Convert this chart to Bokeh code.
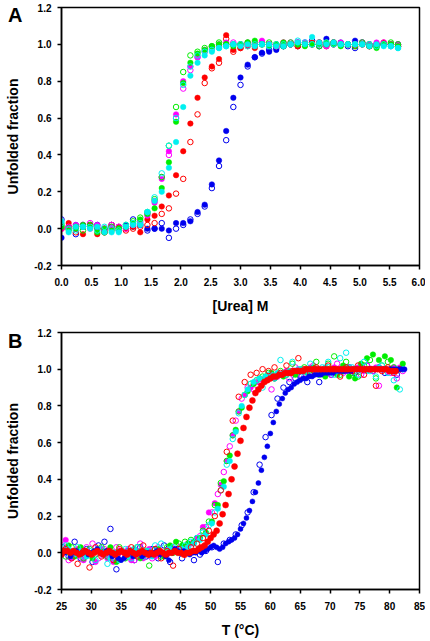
from bokeh.plotting import figure
from bokeh.layouts import column
from bokeh.models import Range1d, FixedTicker, PrintfTickFormatter, Div
from bokeh.embed import file_html
from bokeh.resources import INLINE

# ---------------- Panel A : urea denaturation ----------------
urea = [0.00, 0.12, 0.24, 0.36, 0.48, 0.60, 0.72, 0.84, 0.96, 1.08,
        1.20, 1.32, 1.44, 1.56, 1.68, 1.80, 1.92, 2.04, 2.16, 2.28,
        2.40, 2.52, 2.64, 2.76, 2.88, 3.00, 3.12, 3.24, 3.36, 3.48,
        3.60, 3.72, 3.84, 3.96, 4.08, 4.20, 4.32, 4.44, 4.56, 4.68,
        4.80, 4.92, 5.04, 5.16, 5.28, 5.40, 5.52, 5.64]

a_blue_filled = [-0.05, 0.01, 0.02, 0.01, 0.02, 0.00, -0.01, 0.00, 0.01, 0.02,
                 0.01, 0.02, 0.00, 0.00, 0.00, -0.01, 0.03, 0.03, 0.04, 0.09,
                 0.13, 0.24, 0.37, 0.53, 0.71, 0.82, 0.89, 0.93, 0.955, 0.96,
                 0.97, 0.99, 1.00, 0.99, 1.01, 1.00, 1.01, 1.03, 1.00, 1.01,
                 1.00, 1.02, 1.00, 0.99, 1.00, 1.00, 0.99, 1.00]
a_blue_open = [0.05, 0.00, -0.03, 0.02, 0.01, 0.02, 0.00, 0.02, -0.01, 0.01,
               0.05, 0.02, -0.01, 0.00, 0.03, -0.05, 0.00, 0.02, 0.05, 0.08,
               0.12, 0.22, 0.34, 0.48, 0.66, 0.78, 0.88, 0.93, 0.95, 0.97,
               0.98, 0.99, 1.00, 1.01, 1.00, 1.02, 0.99, 1.00, 1.01, 1.00,
               0.99, 0.98, 1.01, 1.00, 0.99, 1.00, 1.00, 0.99]
a_red_filled = [0.00, 0.03, 0.01, -0.03, 0.02, -0.03, -0.02, 0.01, 0.01, 0.00,
                0.01, -0.02, 0.05, 0.07, 0.12, 0.18, 0.29, 0.42, 0.57, 0.71,
                0.82, 0.88, 0.92, 1.05, 0.97, 0.98, 0.99, 0.98, 1.00, 1.00,
                0.99, 1.01, 1.00, 0.99, 1.00, 1.01, 1.00, 1.00, 1.01, 1.00,
                1.00, 0.99, 1.00, 0.99, 1.00, 1.01, 1.00, 0.99]
a_red_open = [0.00, 0.01, -0.02, 0.01, 0.02, 0.00, -0.02, 0.02, 0.00, -0.01,
              0.00, 0.01, 0.02, 0.03, 0.08, 0.11, 0.19, 0.27, 0.47, 0.62,
              0.79, 0.87, 0.90, 1.03, 0.96, 0.98, 1.00, 0.99, 1.01, 1.00,
              0.99, 1.00, 1.00, 0.99, 1.00, 1.00, 1.01, 0.99, 1.00, 1.00,
              1.00, 1.00, 1.00, 0.99, 1.00, 1.00, 1.00, 0.99]
a_green_filled = [0.01, -0.01, 0.00, 0.02, 0.01, -0.02, 0.00, -0.01, 0.00, 0.01,
                  0.03, 0.05, 0.08, 0.11, 0.22, 0.36, 0.58, 0.79, 0.90, 0.95,
                  0.97, 0.99, 1.00, 1.00, 0.99, 1.00, 1.01, 1.02, 1.00, 0.99,
                  1.00, 1.01, 1.00, 1.00, 0.99, 1.00, 1.00, 1.01, 1.00, 0.99,
                  1.00, 1.00, 1.00, 0.99, 0.98, 1.00, 1.00, 0.99]
a_green_open = [0.02, 0.00, 0.01, -0.01, 0.02, 0.00, -0.02, 0.01, 0.00, 0.02,
                0.04, 0.06, 0.09, 0.16, 0.28, 0.45, 0.66, 0.85, 0.94, 0.96,
                0.98, 0.99, 1.01, 1.00, 1.00, 1.00, 1.01, 1.00, 1.00, 1.01,
                1.00, 0.99, 1.01, 1.00, 1.00, 1.00, 0.99, 1.00, 1.01, 1.00,
                1.00, 0.99, 1.01, 1.00, 0.99, 1.00, 1.01, 1.00]
a_magenta_filled = [0.01, 0.00, 0.02, 0.01, 0.00, 0.02, -0.01, 0.01, 0.00, 0.01,
                    0.02, 0.03, 0.07, 0.14, 0.27, 0.42, 0.62, 0.80, 0.88, 0.93,
                    0.97, 0.99, 1.00, 1.01, 1.00, 1.00, 1.01, 1.00, 1.02, 1.00,
                    1.00, 1.01, 1.00, 1.00, 1.01, 1.00, 1.00, 0.99, 1.00, 1.01,
                    1.00, 1.00, 1.00, 1.00, 1.01, 1.00, 1.00, 1.00]
a_magenta_open = [0.00, 0.01, 0.00, 0.02, 0.03, 0.01, 0.00, 0.02, 0.01, 0.00,
                  0.02, 0.04, 0.08, 0.15, 0.28, 0.40, 0.60, 0.76, 0.86, 0.93,
                  0.96, 0.98, 0.99, 1.00, 1.01, 1.00, 1.00, 1.01, 1.00, 1.00,
                  0.99, 1.00, 1.01, 1.01, 1.00, 1.00, 1.00, 1.00, 1.01, 1.00,
                  1.00, 1.00, 1.01, 1.00, 1.00, 1.01, 1.00, 1.00]
a_cyan_filled = [0.04, -0.02, 0.01, 0.01, 0.00, 0.01, -0.02, -0.02, -0.02, 0.01,
                 0.02, 0.02, 0.09, 0.15, 0.20, 0.33, 0.47, 0.66, 0.83, 0.90,
                 0.94, 0.96, 0.98, 0.99, 1.00, 0.99, 1.00, 0.99, 1.00, 1.00,
                 0.99, 0.99, 1.00, 1.01, 1.00, 1.04, 1.01, 1.00, 1.01, 1.00,
                 1.00, 1.00, 1.00, 0.99, 1.00, 0.99, 0.99, 0.98]
a_cyan_open = [0.03, 0.00, -0.01, 0.01, 0.01, -0.01, 0.01, 0.00, -0.01, 0.02,
               0.03, 0.03, 0.09, 0.17, 0.30, 0.45, 0.60, 0.78, 0.88, 0.94,
               0.96, 0.97, 0.98, 0.99, 1.00, 1.00, 0.99, 1.00, 1.00, 0.99,
               1.00, 1.00, 1.00, 1.02, 1.01, 1.00, 1.00, 1.01, 1.00, 1.00,
               1.00, 1.00, 1.00, 1.00, 0.99, 1.00, 0.99, 0.98]

# ---------------- Panel B : thermal denaturation ----------------
temp_half = [25.0, 25.5, 26.0, 26.5, 27.0, 27.5, 28.0, 28.5, 29.0, 29.5,
             30.0, 30.5, 31.0, 31.5, 32.0, 32.5, 33.0, 33.5, 34.0, 34.5,
             35.0, 35.5, 36.0, 36.5, 37.0, 37.5, 38.0, 38.5, 39.0, 39.5,
             40.0, 40.5, 41.0, 41.5, 42.0, 42.5, 43.0, 43.5, 44.0, 44.5,
             45.0, 45.5, 46.0, 46.5, 47.0, 47.5, 48.0, 48.5, 49.0, 49.5,
             50.0, 50.5, 51.0, 51.5, 52.0, 52.5, 53.0, 53.5, 54.0, 54.5,
             55.0, 55.5, 56.0, 56.5, 57.0, 57.5, 58.0, 58.5, 59.0, 59.5,
             60.0, 60.5, 61.0, 61.5, 62.0, 62.5, 63.0, 63.5, 64.0, 64.5,
             65.0, 65.5, 66.0, 66.5, 67.0, 67.5, 68.0, 68.5, 69.0, 69.5,
             70.0, 70.5, 71.0, 71.5, 72.0, 72.5, 73.0, 73.5, 74.0, 74.5,
             75.0, 75.5, 76.0, 76.5, 77.0, 77.5, 78.0, 78.5, 79.0, 79.5,
             80.0, 80.5, 81.0, 81.5, 82.0, 82.5]
temp_one_a = [25.2, 26.2, 27.2, 28.2, 29.2, 30.2, 31.2, 32.2, 33.2, 34.2,
              35.2, 36.2, 37.2, 38.2, 39.2, 40.2, 41.2, 42.2, 43.2, 44.2,
              45.2, 46.2, 47.2, 48.2, 49.2, 50.2, 51.2, 52.2, 53.2, 54.2,
              55.2, 56.2, 57.2, 58.2, 59.2, 60.2, 61.2, 62.2, 63.2, 64.2,
              65.2, 66.2, 67.2, 68.2, 69.2, 70.2, 71.2, 72.2, 73.2, 74.2,
              75.2, 76.2, 77.2, 78.2, 79.2, 80.2, 81.2, 82.2]
temp_one_b = [25.7, 26.7, 27.7, 28.7, 29.7, 30.7, 31.7, 32.7, 33.7, 34.7,
              35.7, 36.7, 37.7, 38.7, 39.7, 40.7, 41.7, 42.7, 43.7, 44.7,
              45.7, 46.7, 47.7, 48.7, 49.7, 50.7, 51.7, 52.7, 53.7, 54.7,
              55.7, 56.7, 57.7, 58.7, 59.7, 60.7, 61.7, 62.7, 63.7, 64.7,
              65.7, 66.7, 67.7, 68.7, 69.7, 70.7, 71.7, 72.7, 73.7, 74.7,
              75.7, 76.7, 77.7, 78.7, 79.7, 80.7, 81.7]

b_blue_filled = [-0.01, 0.00, 0.01, -0.02, 0.00, 0.01, -0.01, 0.00, 0.01, -0.01,
                 0.00, 0.01, 0.02, 0.00, -0.01, 0.01, 0.00, -0.02, -0.01, -0.03,
                 -0.04, -0.03, -0.01, 0.00, -0.02, -0.01, 0.00, -0.02, -0.01, 0.00,
                 -0.01, 0.00, 0.01, -0.01, 0.00, -0.02, -0.04, 0.00, 0.02, 0.01,
                 0.00, 0.01, 0.00, -0.01, 0.00, 0.00, 0.01, 0.00, 0.01, 0.02,
                 0.03, 0.04, 0.03, 0.02, 0.03, 0.05, 0.06, 0.07, 0.08, 0.10,
                 0.13, 0.16, 0.19, 0.23, 0.28, 0.33, 0.38, 0.45, 0.52, 0.58,
                 0.65, 0.71, 0.77, 0.81, 0.84, 0.87, 0.89, 0.90, 0.92, 0.93,
                 0.94, 0.95, 0.95, 0.96, 0.96, 0.97, 0.97, 0.97, 0.98, 0.98,
                 0.98, 0.98, 0.99, 0.99, 0.99, 0.99, 0.99, 0.99, 1.00, 1.00,
                 1.00, 1.00, 1.00, 1.00, 1.00, 1.00, 1.00, 1.00, 1.00, 1.00,
                 1.00, 1.00, 1.00, 1.00, 1.00, 1.00]
b_red_filled = [-0.01, 0.01, 0.01, 0.00, 0.01, 0.00, -0.01, 0.00, 0.01, 0.00,
                -0.01, 0.00, 0.01, 0.00, -0.01, 0.00, 0.01, 0.00, -0.01, 0.00,
                0.01, 0.00, -0.01, 0.01, 0.00, -0.01, 0.00, 0.01, 0.00, -0.01,
                0.00, -0.01, 0.00, 0.01, 0.00, -0.01, 0.00, 0.00, 0.01, 0.00,
                0.00, -0.01, 0.00, 0.00, 0.01, 0.01, 0.02, 0.03, 0.04, 0.06,
                0.08, 0.10, 0.12, 0.16, 0.21, 0.26, 0.32, 0.40, 0.47, 0.54,
                0.61, 0.68, 0.74, 0.79, 0.83, 0.87, 0.89, 0.91, 0.93, 0.94,
                0.95, 0.96, 0.96, 0.97, 0.97, 0.98, 0.98, 0.98, 0.99, 0.99,
                0.99, 0.99, 1.00, 1.00, 1.00, 1.00, 1.00, 1.00, 1.00, 1.00,
                1.00, 1.00, 1.00, 1.00, 1.00, 1.00, 1.00, 1.00, 1.00, 1.00,
                1.00, 1.00, 1.00, 1.00, 1.00, 1.00, 1.00, 1.00, 1.00, 1.00,
                0.99, 0.99, 0.99]
b_blue_open = [0.03, -0.02, 0.06, -0.03, 0.02, -0.05, 0.04, 0.06, 0.13, -0.09,
               -0.02, 0.01, -0.04, 0.03, -0.02, 0.02, -0.03, 0.04, -0.05, 0.02,
               -0.03, 0.00, -0.04, -0.01, 0.01, 0.03, -0.05, 0.05, 0.07, 0.10,
               0.15, 0.22, 0.33, 0.48, 0.63, 0.75, 0.84, 0.90, 0.93, 0.95,
               0.96, 0.93, 0.97, 0.93, 0.98, 0.97, 1.00, 0.99, 1.01, 0.98,
               1.00, 1.02, 0.99, 1.01, 0.98, 1.00, 0.97, 1.00]
b_red_open = [0.02, -0.03, -0.06, 0.01, -0.08, 0.03, -0.02, 0.01, -0.04, 0.02,
              0.00, 0.03, -0.02, 0.04, -0.01, 0.02, -0.03, 0.01, -0.07, 0.02,
              -0.01, 0.03, 0.05, 0.08, 0.12, 0.20, 0.34, 0.55, 0.72, 0.85,
              0.93, 0.97, 0.98, 1.00, 0.99, 1.01, 0.98, 1.02, 0.99, 1.06,
              1.00, 0.98, 1.01, 0.99, 1.02, 1.00, 0.96, 1.01, 0.99, 1.02,
              0.97, 1.00, 0.91, 0.99, 1.01, 0.98, 1.00]
b_green_filled = [0.01, 0.04, -0.02, 0.03, 0.00, -0.03, 0.02, -0.01, 0.03, -0.05,
                  0.01, -0.02, 0.02, -0.03, 0.01, -0.01, 0.02, -0.02, 0.04, 0.06,
                  0.04, 0.05, 0.06, 0.08, 0.11, 0.17, 0.26, 0.39, 0.53, 0.67,
                  0.79, 0.88, 0.92, 0.95, 0.96, 0.98, 0.97, 0.96, 0.99, 0.97,
                  1.00, 0.98, 1.01, 0.97, 0.96, 0.99, 0.97, 1.02, 0.96, 0.95,
                  1.03, 1.06, 1.08, 1.05, 1.07, 1.05, 0.90, 1.03]
b_green_open = [-0.02, 0.03, 0.01, -0.03, 0.02, -0.01, 0.03, -0.02, 0.00, 0.03,
                -0.03, 0.01, 0.03, -0.01, -0.07, 0.02, -0.02, 0.03, 0.00, 0.05,
                0.06, 0.07, 0.08, 0.12, 0.17, 0.26, 0.38, 0.50, 0.64, 0.77,
                0.86, 0.92, 0.94, 0.96, 0.98, 0.95, 0.99, 0.97, 1.03, 0.99,
                1.01, 0.97, 1.04, 0.98, 1.03, 1.07, 0.97, 1.04, 0.98, 0.96,
                1.02, 1.05, 0.95, 1.02, 1.04, 1.01, 1.00]
b_magenta_filled = [0.07, -0.03, 0.02, -0.04, 0.00, -0.05, 0.02, -0.03, -0.05, 0.01,
                    -0.02, -0.04, 0.01, -0.03, 0.02, -0.02, 0.00, -0.01, 0.02, 0.01,
                    0.03, 0.05, 0.08, 0.14, 0.22, 0.27, 0.37, 0.50, 0.64, 0.77,
                    0.86, 0.90, 0.93, 0.94, 0.96, 0.95, 0.97, 0.99, 0.98, 1.00,
                    0.99, 1.01, 1.00, 0.99, 1.00, 1.01, 1.00, 0.99, 1.00, 1.01,
                    0.99, 1.00, 1.01, 1.00, 0.99, 1.01, 1.01]
b_magenta_open = [0.04, -0.04, 0.01, -0.02, 0.03, 0.05, -0.03, 0.02, -0.01, 0.03,
                  -0.02, 0.02, -0.04, 0.05, 0.00, -0.03, 0.03, -0.01, 0.02, 0.04,
                  0.00, 0.05, 0.06, 0.09, 0.14, 0.22, 0.32, 0.44, 0.58, 0.72,
                  0.84, 0.90, 0.89, 0.93, 0.95, 0.89, 0.96, 0.98, 0.95, 1.01,
                  0.97, 0.99, 1.02, 0.98, 1.00, 0.97, 1.03, 0.98, 1.01, 0.99,
                  0.97, 1.02, 0.99, 0.91, 1.00, 0.98, 0.95, 0.99]
b_cyan_filled = [0.00, 0.02, -0.01, 0.01, -0.02, 0.00, 0.02, -0.01, -0.03, 0.00,
                 0.01, -0.02, 0.02, -0.01, 0.01, -0.02, 0.01, 0.00, 0.02, 0.01,
                 0.02, 0.03, 0.05, 0.07, 0.10, 0.16, 0.24, 0.36, 0.50, 0.66,
                 0.80, 0.89, 0.93, 0.95, 0.96, 0.97, 0.98, 0.98, 0.99, 0.99,
                 1.00, 0.99, 1.00, 1.00, 1.01, 1.00, 0.99, 1.00, 1.01, 1.00,
                 1.00, 0.99, 1.00, 1.01, 1.00, 0.99, 1.00, 1.00]
b_cyan_open = [0.04, -0.01, 0.03, -0.02, 0.01, -0.04, 0.02, -0.06, 0.00, -0.04,
               0.02, -0.03, 0.03, -0.02, 0.01, 0.04, 0.05, 0.01, 0.03, 0.00,
               0.04, 0.06, 0.08, 0.11, 0.15, 0.22, 0.34, 0.48, 0.62, 0.76,
               0.86, 0.92, 0.94, 0.90, 0.97, 0.95, 1.05, 0.97, 1.04, 1.00,
               0.96, 1.03, 0.99, 1.01, 1.04, 0.97, 1.06, 1.09, 1.01, 0.97,
               1.04, 0.99, 0.96, 1.02, 0.98, 0.94, 0.89]

y_ticks = [-0.2, 0.0, 0.2, 0.4, 0.6, 0.8, 1.0, 1.2]
urea_ticks = [0.0, 0.5, 1.0, 1.5, 2.0, 2.5, 3.0, 3.5, 4.0, 4.5, 5.0, 5.5, 6.0]
temp_ticks = [25, 30, 35, 40, 45, 50, 55, 60, 65, 70, 75, 80, 85]
panel_letters = ["A", "B"]

BLUE = "#0000ee"
RED = "#ff0000"
GREEN = "#00ee00"
MAGENTA = "#ff00ff"
CYAN = "#00f0f0"
FONT = "Liberation Sans"
MS = 5.5


def make_fig(x_range, height, top, bottom):
    p = figure(width=425, height=height, x_range=x_range, y_range=Range1d(-0.2, 1.2),
               output_backend="svg", toolbar_location=None,
               min_border_left=61, min_border_right=6,
               min_border_top=top, min_border_bottom=bottom)
    p.xgrid.visible = False
    p.ygrid.visible = False
    p.outline_line_color = "black"
    p.outline_line_width = 1.5
    p.outline_line_alpha = 1.0
    for ax in (p.xaxis[0], p.yaxis[0]):
        ax.axis_line_width = 1.5
        ax.major_tick_line_width = 1.5
        ax.major_tick_out = 4
        ax.major_tick_in = 0
        ax.minor_tick_line_color = None
        ax.major_label_text_font = FONT
        ax.major_label_text_font_style = "bold"
        ax.major_label_text_font_size = "10px"
        ax.major_label_text_color = "black"
        ax.axis_label_text_font = FONT
        ax.axis_label_text_font_style = "bold"
        ax.axis_label_text_font_size = "14px"
        ax.axis_label_text_color = "black"
    p.yaxis[0].ticker = FixedTicker(ticks=y_ticks)
    p.yaxis[0].formatter = PrintfTickFormatter(format="%.1f")
    p.yaxis[0].axis_label = "Unfolded fraction"
    p.yaxis[0].major_label_standoff = 6
    p.yaxis[0].axis_label_standoff = 10
    p.xaxis[0].major_label_standoff = 8
    p.xaxis[0].axis_label_standoff = 9
    return p


def filled(p, x, y, c, size=MS):
    p.scatter(x, y, marker="circle", size=size, fill_color=c, line_color=c, line_width=0.5)


def hollow(p, x, y, c, size=MS):
    p.scatter(x, y, marker="circle", size=size, fill_color=None, line_color=c, line_width=1)


def letter(text, top):
    return Div(text=text, styles={"position": "absolute", "left": "3px", "top": top,
                                  "font-family": FONT, "font-weight": "bold",
                                  "font-size": "20px", "line-height": "20px",
                                  "color": "black", "z-index": "10"})


# ---- Figure A
pa = make_fig(Range1d(0, 6), 318, 7, 53)
pa.xaxis[0].ticker = FixedTicker(ticks=urea_ticks)
pa.xaxis[0].formatter = PrintfTickFormatter(format="%.1f")
pa.xaxis[0].axis_label = "[Urea] M"

filled(pa, urea, a_blue_filled, BLUE)
hollow(pa, urea, a_blue_open, BLUE)
filled(pa, urea, a_red_filled, RED)
hollow(pa, urea, a_red_open, RED)
filled(pa, urea, a_magenta_filled, MAGENTA)
hollow(pa, urea, a_magenta_open, MAGENTA)
filled(pa, urea, a_green_filled, GREEN)
hollow(pa, urea, a_green_open, GREEN)
filled(pa, urea, a_cyan_filled, CYAN)
hollow(pa, urea, a_cyan_open, CYAN)

# ---- Figure B
pb = make_fig(Range1d(25, 85), 322, 14, 51)
pb.xaxis[0].ticker = FixedTicker(ticks=temp_ticks)
pb.xaxis[0].formatter = PrintfTickFormatter(format="%d")
pb.xaxis[0].axis_label = "T (°C)"

hollow(pb, temp_one_a, b_blue_open, BLUE)
hollow(pb, temp_one_a, b_magenta_open, MAGENTA)
filled(pb, temp_one_b, b_magenta_filled, MAGENTA)
hollow(pb, temp_one_b, b_green_open, GREEN)
filled(pb, temp_one_a, b_green_filled, GREEN)
hollow(pb, temp_one_b, b_cyan_open, CYAN)
filled(pb, temp_one_a, b_cyan_filled, CYAN)
hollow(pb, temp_one_b, b_red_open, RED)
filled(pb, temp_half[:len(b_blue_filled)], b_blue_filled, BLUE, 5)
filled(pb, temp_half[:len(b_red_filled)], b_red_filled, RED, 6)

layout = column(pa, pb, letter(panel_letters[0], "0px"), letter(panel_letters[1], "326px"),
                spacing=0)
open("out.html", "w").write(file_html(layout, INLINE))
